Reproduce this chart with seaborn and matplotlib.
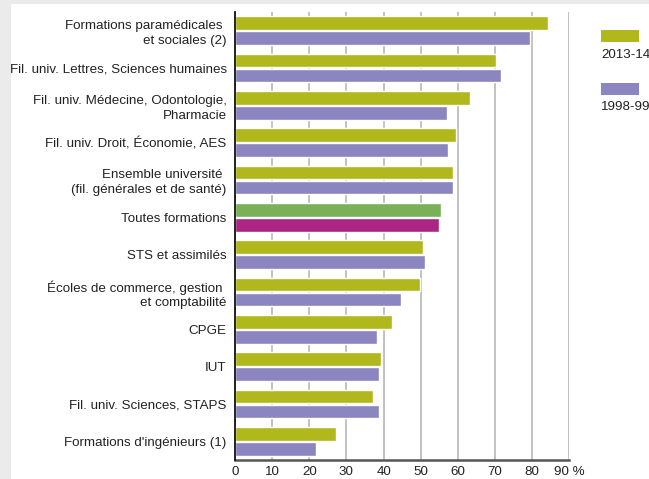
import matplotlib
matplotlib.use("Agg")
import matplotlib.pyplot as plt
import seaborn as sns
import pandas as pd
from matplotlib.patches import Rectangle

categories = [
    "Formations paramédicales \net sociales (2)",
    "Fil. univ. Lettres, Sciences humaines",
    "Fil. univ. Médecine, Odontologie,\nPharmacie",
    "Fil. univ. Droit, Économie, AES",
    "Ensemble université \n(fil. générales et de santé)",
    "Toutes formations",
    "STS et assimilés",
    "Écoles de commerce, gestion \net comptabilité",
    "CPGE",
    "IUT",
    "Fil. univ. Sciences, STAPS",
    "Formations d'ingénieurs (1)",
]
values_2013 = [84.2, 70.2, 63.3, 59.5, 58.7, 55.4, 50.5, 49.8, 42.3, 39.3, 37.1, 27.2]
values_1998 = [79.4, 71.6, 57.1, 57.3, 58.7, 54.9, 51.1, 44.7, 38.2, 38.8, 38.8, 21.8]
series = ["2013-14", "1998-99"]
xticks = [0, 10, 20, 30, 40, 50, 60, 70, 80, 90]
xtick_labels = ["0", "10", "20", "30", "40", "50", "60", "70", "80", "90 %"]

df = pd.DataFrame({
    "cat": categories * 2,
    "val": values_2013 + values_1998,
    "year": [series[0]] * len(categories) + [series[1]] * len(categories),
})

sns.set_style("white")
plt.rcParams["font.family"] = ["Liberation Sans", "DejaVu Sans"]

W, H = 649, 479
fig = plt.figure(figsize=(W / 100, H / 100), dpi=100, facecolor="#ebebeb")
fig.patches.append(Rectangle((11 / W, 0), 1, 1 - 4 / H, transform=fig.transFigure,
                             facecolor="white", edgecolor="none", zorder=-10))

ax = fig.add_axes([235 / W, 1 - 460 / H, (569.3 - 235) / W, (460 - 12) / H])
ax.set_facecolor("none")

c2013 = "#b0b81c"
c1998 = "#8b85c0"
sns.barplot(data=df, y="cat", x="val", hue="year", orient="h", ax=ax,
            palette=[c2013, c1998], width=0.8, gap=0.08, legend=False,
            saturation=1, zorder=3)

# special colors for "Toutes formations"
idx = categories.index("Toutes formations")
ax.containers[0][idx].set_facecolor("#7ab058")
ax.containers[1][idx].set_facecolor("#aa2682")

fs = 9.6
ax.set_xlim(0, 90)
ax.set_ylim(11.5, -0.5)
ax.set_xticks(xticks)
ax.set_xticklabels(xtick_labels)
ax.set_xlabel("")
ax.set_ylabel("")
ax.grid(axis="x", color="#b8b8b8", linewidth=1.2, zorder=0)
ax.set_axisbelow(True)
for s in ["top", "right"]:
    ax.spines[s].set_visible(False)
ax.spines["left"].set_color("#111111")
ax.spines["left"].set_linewidth(1.3)
ax.spines["left"].set_zorder(5)
ax.spines["bottom"].set_color("#555555")
ax.spines["bottom"].set_linewidth(1.8)
ax.tick_params(axis="both", length=0, labelsize=fs, colors="#222222")
ax.tick_params(axis="y", pad=6)
ax.tick_params(axis="x", pad=4)
for t in ax.get_yticklabels():
    t.set_linespacing(1.3)
    t.set_multialignment("right")

# legend
fig.patches.append(Rectangle((601 / W, 1 - 41.7 / H), 38 / W, 11.7 / H,
                             transform=fig.transFigure, facecolor=c2013, edgecolor="none"))
fig.text(601 / W, 1 - 55 / H, series[0], ha="left", va="center", fontsize=fs, color="#222222")
fig.patches.append(Rectangle((601 / W, 1 - 95 / H), 38 / W, 12 / H,
                             transform=fig.transFigure, facecolor=c1998, edgecolor="none"))
fig.text(601 / W, 1 - 107 / H, series[1], ha="left", va="center", fontsize=fs, color="#222222")

fig.savefig("out.png", dpi=100, facecolor=fig.get_facecolor())
